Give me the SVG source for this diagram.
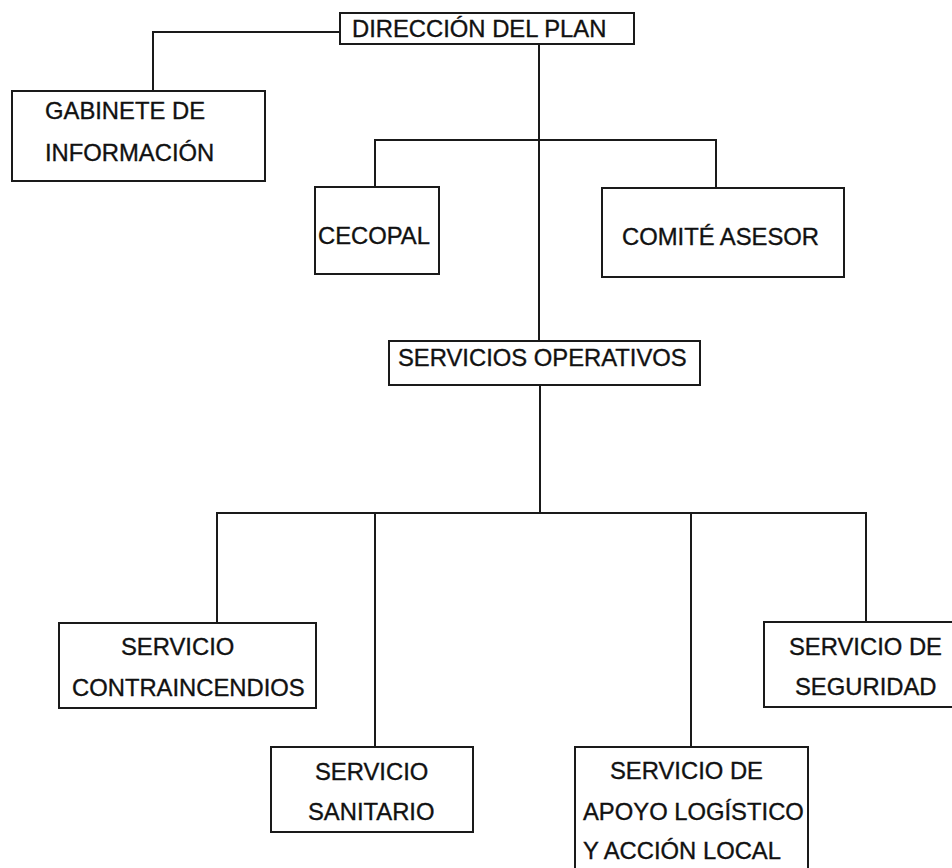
<svg xmlns="http://www.w3.org/2000/svg" width="952" height="868" viewBox="0 0 952 868">
<style>
.box{fill:#fff;stroke:#1a1a1a;stroke-width:2}
.ln{fill:none;stroke:#1a1a1a;stroke-width:2}
text{font-family:"Liberation Sans",Arial,sans-serif;font-size:23.8px;fill:#111;stroke:#111;stroke-width:0.35}
</style>
<rect width="952" height="868" fill="#fff"/>
<g id="connectors">
<path class="ln" d="M340,32 H153 V91"/>
<path class="ln" d="M539,44 V341"/>
<path class="ln" d="M375,187 V140 H716 V188"/>
<path class="ln" d="M540,385 V513"/>
<path class="ln" d="M217,623 V513 H866 V622"/>
<path class="ln" d="M375,513 V747"/>
<path class="ln" d="M691,513 V747"/>
</g>
<g id="direccion">
<rect class="box" x="340" y="13" width="294" height="31"/>
<text x="352" y="37">DIRECCIÓN DEL PLAN</text>
</g>
<g id="gabinete">
<rect class="box" x="12" y="91" width="253" height="90"/>
<text x="45" y="119">GABINETE DE</text>
<text x="45" y="161">INFORMACIÓN</text>
</g>
<g id="cecopal">
<rect class="box" x="315" y="187" width="124" height="87"/>
<text x="318" y="244">CECOPAL</text>
</g>
<g id="comite">
<rect class="box" x="602" y="188" width="242" height="89"/>
<text x="622" y="245">COMITÉ ASESOR</text>
</g>
<g id="operativos">
<rect class="box" x="389" y="341" width="311" height="44"/>
<text x="398" y="366">SERVICIOS OPERATIVOS</text>
</g>
<g id="contraincendios">
<rect class="box" x="59" y="623" width="257" height="85"/>
<text x="121" y="655">SERVICIO</text>
<text x="72" y="696">CONTRAINCENDIOS</text>
</g>
<g id="sanitario">
<rect class="box" x="271" y="747" width="202" height="85"/>
<text x="315" y="780">SERVICIO</text>
<text x="308" y="820">SANITARIO</text>
</g>
<g id="apoyo">
<rect class="box" x="575" y="747" width="233" height="130"/>
<text x="610" y="779">SERVICIO DE</text>
<text x="583" y="820">APOYO LOGÍSTICO</text>
<text x="583" y="859">Y ACCIÓN LOCAL</text>
</g>
<g id="seguridad">
<rect class="box" x="764" y="622" width="200" height="85"/>
<text x="789" y="655">SERVICIO DE</text>
<text x="795" y="695">SEGURIDAD</text>
</g>
</svg>
